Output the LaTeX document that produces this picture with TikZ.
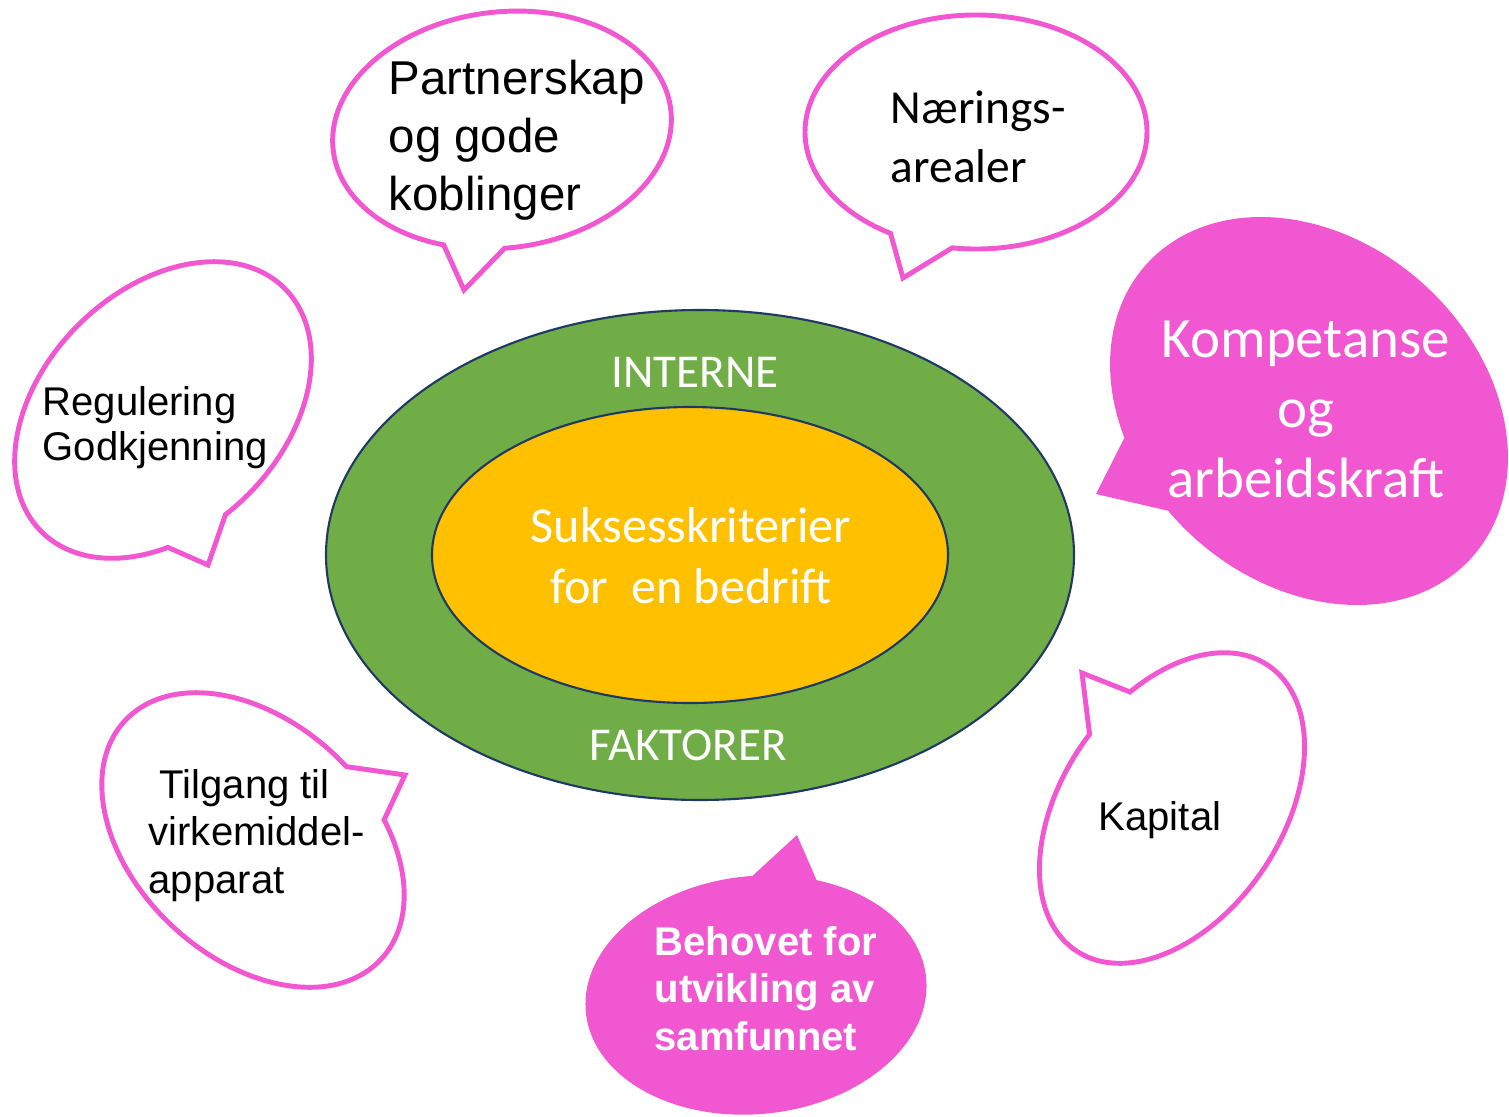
\documentclass[tikz,border=0pt]{standalone}
\usepackage{fontspec}
\setmainfont{Liberation Sans}
\newfontfamily\calibri{Carlito}
\usepackage{tikz}
\usepackage{xcolor}
\definecolor{bubblepink}{HTML}{F157D0}
\definecolor{ringgreen}{HTML}{70AD47}
\definecolor{coreorange}{HTML}{FFC000}
\definecolor{ringnavy}{HTML}{203864}

\tikzset{
  bubble/.style={draw=bubblepink, line width=1.4pt, fill=white, line join=miter},
  bubblefull/.style={fill=bubblepink},
  arialtext/.style={inner sep=0pt, anchor=base west, align=left, font=\fontsize{11.4}{13.5}\selectfont},
  ringtext/.style={inner sep=0pt, anchor=base, align=center, text=white}
}

\begin{document}
\begin{tikzpicture}
\useasboundingbox (0,0) rectangle (15.09,-11.17);

% middle rings
\draw[fill=ringgreen, draw=ringnavy, line width=0.6pt] (7.00,-5.55) ellipse (3.74 and 2.45);
\draw[fill=coreorange, draw=ringnavy, line width=0.6pt] (6.90,-5.55) ellipse (2.58 and 1.48);

% base of a block = base of its last line
\node[ringtext, font=\calibri\fontsize{13.4}{16}\selectfont] (interne) at (6.95,-3.87) {INTERNE};
\node[ringtext, font=\calibri\fontsize{13.4}{16}\selectfont] (faktorer) at (6.88,-7.60) {FAKTORER};
\node[ringtext, font=\calibri\fontsize{14.3}{17.1}\selectfont] (kriterier) at (6.91,-6.03) {Suksesskriterier\\for~~en bedrift};

% tail tips
\coordinate (tipP) at (4.64,-2.90);
\coordinate (tipN) at (9.03,-2.78);
\coordinate (tipK) at (10.96,-4.94);
\coordinate (tipB) at (7.97,-8.35);
\coordinate (tipR) at (2.08,-5.65);
\coordinate (tipT) at (4.05,-7.75);
\coordinate (tipC) at (10.82,-6.73);

% partnerskap
\begin{scope}[shift={(5.02,-1.30)}, rotate=7]
\draw[bubble] (266:1.70 and 1.18) arc[start angle=266, end angle=605, x radius=1.70, y radius=1.18] -- (tipP) -- cycle;
\end{scope}
% naeringsarealer
\begin{scope}[shift={(9.76,-1.32)}]
\draw[bubble] (262:1.71 and 1.17) arc[start angle=262, end angle=600, x radius=1.71, y radius=1.17] -- (tipN) -- cycle;
\end{scope}
% kompetanse
\begin{scope}[shift={(13.09,-4.11)}, rotate=-42]
\fill[bubblefull] (260:2.19 and 1.71) arc[start angle=260, end angle=597, x radius=2.19, y radius=1.71] -- (tipK) -- cycle;
\end{scope}
% behovet
\begin{scope}[shift={(7.56,-9.95)}, rotate=6]
\fill[bubblefull] (87:1.71 and 1.19) arc[start angle=87, end angle=425, x radius=1.71, y radius=1.19] -- (tipB) -- cycle;
\end{scope}
% regulering
\begin{scope}[shift={(1.63,-4.10)}, rotate=45]
\draw[bubble] (260:1.72 and 1.20) arc[start angle=260, end angle=597, x radius=1.72, y radius=1.20] -- (tipR) -- cycle;
\end{scope}
% tilgang
\begin{scope}[shift={(2.53,-8.40)}, rotate=-43]
\draw[bubble] (84:1.75 and 1.18) arc[start angle=84, end angle=422, x radius=1.75, y radius=1.18] -- (tipT) -- cycle;
\end{scope}
% kapital
\begin{scope}[shift={(11.72,-8.08)}, rotate=56]
\draw[bubble] (85:1.72 and 1.10) arc[start angle=85, end angle=425, x radius=1.72, y radius=1.10] -- (tipC) -- cycle;
\end{scope}

\node[arialtext, font=\fontsize{13.5}{16.4}\selectfont] (partner) at (3.88,-2.10) {Partnerskap\\og gode\\koblinger};
\node[arialtext, font=\calibri\fontsize{13.5}{16.7}\selectfont] (naering) at (8.90,-1.82) {Nærings-\\arealer};
\node[ringtext, font=\calibri\fontsize{16.2}{19.9}\selectfont] (kompetanse) at (13.06,-4.97) {Kompetanse\\og\\arbeidskraft};
\node[arialtext, text=white, font=\bfseries\fontsize{11.4}{13.5}\selectfont] (behov) at (6.54,-10.50) {Behovet for\\utvikling av\\samfunnet};
\node[arialtext, font=\fontsize{11.4}{12.8}\selectfont] (regulering) at (0.42,-4.60) {Regulering\\Godkjenning};
\node[arialtext] (tilgang) at (1.48,-8.93) {~Tilgang til\\virkemiddel-\\apparat};
\node[arialtext] (kapital) at (10.98,-8.30) {Kapital};
\end{tikzpicture}
\end{document}
